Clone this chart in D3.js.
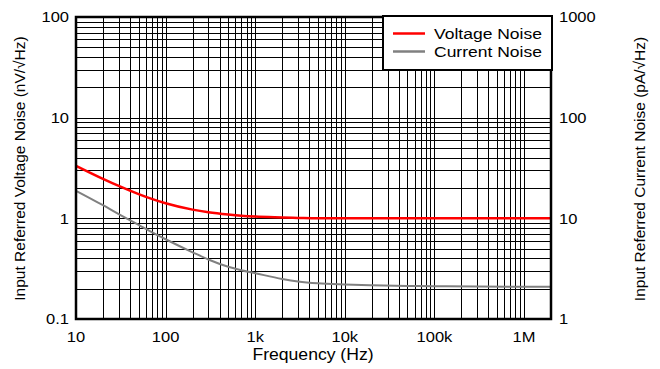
<!DOCTYPE html>
<html><head><meta charset="utf-8">
<script src="https://cdn.jsdelivr.net/npm/d3@7/dist/d3.min.js"></script>
<style>body{margin:0;background:#fff}svg{display:block;font-family:"Liberation Sans",Arial,sans-serif}</style>
</head><body><svg id="c" width="660" height="369"></svg>
<script>
const freq = [10, 20, 30, 50, 70, 100, 200, 300, 500, 700, 1000, 2000, 3000, 5000, 10000, 20000, 50000, 100000, 300000, 1000000, 2000000];
const voltageNoise = [3.33, 2.47, 2.1, 1.74, 1.56, 1.41, 1.22, 1.15, 1.09, 1.06, 1.04, 1.02, 1.01, 1.0, 1.0, 1.0, 1.0, 1.0, 1.0, 1.0, 1.0];
const currentNoise = [18.8, 13.5, 11.0, 8.6, 7.3, 6.2, 4.6, 3.9, 3.3, 3.05, 2.85, 2.5, 2.36, 2.26, 2.2, 2.16, 2.13, 2.12, 2.1, 2.09, 2.09];
const xTickVals = [10, 100, 1000, 10000, 100000, 1000000];
const xTickLabels = ["10", "100", "1k", "10k", "100k", "1M"];
const yLeftTicks = [0.1, 1, 10, 100];
const yLeftLabels = ["0.1", "1", "10", "100"];
const yRightTicks = [1, 10, 100, 1000];
const yRightLabels = ["1", "10", "100", "1000"];
const seriesNames = ["Voltage Noise", "Current Noise"];
const seriesColors = ["#ff0000", "#808080"];

const L = 76, R = 551, T = 17, B = 319;
const svg = d3.select("#c");
const x = d3.scaleLog().domain([10, 2000000]).range([L, R]);
const yL = d3.scaleLog().domain([0.1, 100]).range([B, T]);
const yR = d3.scaleLog().domain([1, 1000]).range([B, T]);

// grid
const g = svg.append("g");
const xGrid = [];
for (let d = 10; d < 2000000; d *= 10) for (let k = 1; k <= 9; k++) { const v = d * k; if (v > 10 && v < 2000000) xGrid.push(v); }
const yGrid = [];
for (let d = 0.1; d < 100; d *= 10) for (let k = 1; k <= 9; k++) { const v = d * k; if (v > 0.1 * 1.0001 && v < 100 * 0.9999) yGrid.push(v); }
g.selectAll(".vx").data(xGrid).join("line").attr("x1", d => Math.round(x(d)) + 0.5).attr("x2", d => Math.round(x(d)) + 0.5).attr("y1", T).attr("y2", B).attr("stroke", "#000").attr("stroke-width", 1);
g.selectAll(".hy").data(yGrid).join("line").attr("y1", d => Math.round(yL(d)) + 0.5).attr("y2", d => Math.round(yL(d)) + 0.5).attr("x1", L).attr("x2", R).attr("stroke", "#000").attr("stroke-width", 1);

// curves
const lineV = d3.line().x((d, i) => x(freq[i])).y(d => yL(d)).curve(d3.curveMonotoneX);
const lineC = d3.line().x((d, i) => x(freq[i])).y(d => yR(d)).curve(d3.curveMonotoneX);
svg.append("path").attr("d", lineC(currentNoise)).attr("fill", "none").attr("stroke", seriesColors[1]).attr("stroke-width", 2);
svg.append("path").attr("d", lineV(voltageNoise)).attr("fill", "none").attr("stroke", seriesColors[0]).attr("stroke-width", 2.5);

// frame
svg.append("rect").attr("x", L).attr("y", T).attr("width", R - L).attr("height", B - T).attr("fill", "none").attr("stroke", "#000").attr("stroke-width", 2.5);

// horizontally stretched text helper
function txt(px, py, s, size, anchor, sx) {
  return svg.append("text").attr("transform", `translate(${px},${py}) scale(${sx},1)`)
    .attr("text-anchor", anchor).attr("font-size", size).attr("dy", "0.35em").text(s);
}
xTickVals.forEach((v, i) => txt(x(v), 337, xTickLabels[i], 15, "middle", 1.1));
yLeftTicks.forEach((v, i) => txt(69, yL(v), yLeftLabels[i], 15, "end", 1.1));
yRightTicks.forEach((v, i) => txt(559, yR(v), yRightLabels[i], 15, "start", 1.1));
txt(313, 354, "Frequency (Hz)", 16, "middle", 1.1);

svg.append("text").attr("transform", "translate(20,168.5) rotate(-90)").attr("text-anchor", "middle").attr("dy", "0.35em").attr("font-size", 15.5).text("Input Referred Voltage Noise (nV/\u221AHz)");
svg.append("text").attr("transform", "translate(640,169) rotate(-90)").attr("text-anchor", "middle").attr("dy", "0.35em").attr("font-size", 15.5).text("Input Referred Current Noise (pA/\u221AHz)");

// legend
svg.append("rect").attr("x", 383).attr("y", 16).attr("width", 169).attr("height", 54).attr("fill", "#fff").attr("stroke", "#000").attr("stroke-width", 2);
seriesNames.forEach((n, i) => {
  const yy = 33.5 + i * 18;
  svg.append("line").attr("x1", 393).attr("x2", 425).attr("y1", yy).attr("y2", yy).attr("stroke", seriesColors[i]).attr("stroke-width", 2.5);
  txt(434, yy, n, 15.5, "start", 1.13);
});
</script></body></html>
